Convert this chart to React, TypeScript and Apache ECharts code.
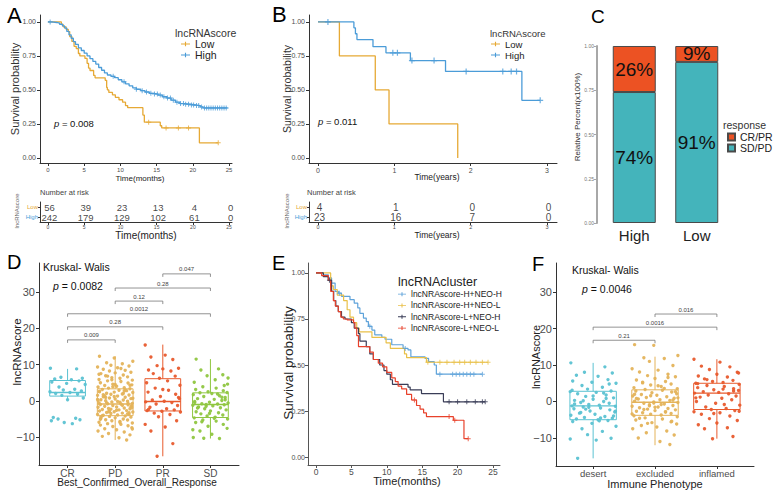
import React, { useEffect, useRef } from "react";
import * as echarts from "echarts";

const FONT = "'Liberation Sans', Arial, Helvetica, sans-serif";

// ---------------- Panel A (Kaplan-Meier, months) ----------------
const A_LOW: number[][] = [[0,1],[1.85,0.982],[2.1,0.964],[2.5,0.946],[2.8,0.929],[3.0,0.893],[3.3,0.857],[3.6,0.821],[3.9,0.804],[4.2,0.768],[4.4,0.75],[5.1,0.732],[5.4,0.696],[5.6,0.661],[5.8,0.643],[6.3,0.607],[6.5,0.589],[7.9,0.571],[8.1,0.518],[8.2,0.5],[8.4,0.482],[8.9,0.464],[9.3,0.446],[9.8,0.428],[10.3,0.41],[10.7,0.385],[11.0,0.37],[13.1,0.315],[13.3,0.263],[15.5,0.237],[15.7,0.221],[20.9,0.111],[23.5,0.111]];
const A_HIGH: number[][] = [[0,1],[0.5,0.996],[1.2,0.992],[1.6,0.983],[2.0,0.971],[2.3,0.955],[2.6,0.93],[2.9,0.905],[3.2,0.88],[3.5,0.855],[3.8,0.835],[4.2,0.81],[4.6,0.79],[5.0,0.77],[5.4,0.75],[5.8,0.73],[6.2,0.71],[6.6,0.69],[7.0,0.665],[7.4,0.645],[7.8,0.625],[8.2,0.61],[8.7,0.6],[9.2,0.59],[9.7,0.575],[10.2,0.56],[10.7,0.545],[11.2,0.53],[11.7,0.515],[12.2,0.505],[12.8,0.495],[13.4,0.485],[14.0,0.475],[14.6,0.47],[15.2,0.462],[15.8,0.45],[16.4,0.44],[17.0,0.425],[17.6,0.41],[18.2,0.4],[18.8,0.395],[19.6,0.39],[20.4,0.385],[21.0,0.375],[21.4,0.368],[24.8,0.368]];
const A_LOW_CENS = [13.9, 16.3, 18.0, 19.4, 23.5];
const A_HIGH_CENS = [0.3, 9.0, 10.5, 12.2, 13.0, 13.6, 14.2, 14.7, 15.1, 15.5, 16.0, 16.5, 16.9, 17.3, 17.8, 18.3, 18.7, 19.0, 19.4, 19.8, 20.1, 20.5, 20.8, 21.2, 21.6, 21.9, 22.2, 22.5, 22.8, 23.1, 23.4, 23.7, 24.0, 24.3, 24.6];
const A_RISK_TIMES = [0, 5, 10, 15, 20, 25];
const A_RISK_LOW = [56, 39, 23, 13, 4, 0];
const A_RISK_HIGH = [242, 179, 129, 102, 61, 0];
const A_TICKS = [0, 5, 10, 15, 20, 25];

// ---------------- Panel B (Kaplan-Meier, years) ----------------
const B_LOW: number[][] = [[0,1],[0.28,0.75],[0.75,0.5],[0.93,0.25],[1.83,0]];
const B_HIGH: number[][] = [[0,1],[0.47,0.957],[0.49,0.913],[0.51,0.87],[0.72,0.818],[0.89,0.773],[1.21,0.716],[1.67,0.636],[2.67,0.424],[2.91,0.424]];
const B_HIGH_CENS = [0.13, 0.98, 1.04, 1.23, 1.52, 1.94, 2.42, 2.53, 2.6, 2.91];
const B_RISK_TIMES = [0, 1, 2, 3];
const B_RISK_LOW = [4, 1, 0, 0];
const B_RISK_HIGH = [23, 16, 7, 0];
const B_TICKS = [0, 1, 2, 3];

// ---------------- Panel C (stacked bars) ----------------
const C_CATS = ["High", "Low"];
const C_SDPD = [0.74, 0.91];
const C_CRPR = [0.26, 0.09];

// ---------------- Panel D (box + jitter) ----------------
const D_CATS = ["CR", "PD", "PR", "SD"];
const D_BOX = [
  [0.2, 1.3, 2.3, 5.6, 8.8],
  [-10.8, -4.1, -0.9, 3.3, 12.3],
  [-15.3, -2.8, -0.2, 6.1, 15.5],
  [-10.4, -4.6, -1.0, 2.2, 11.5],
];
const D_CR = [9.0, 8.8, 6.5, 6.2, 6.0, 5.8, 5.5, 5.2, 4.8, 4.5, 3.8, 3.2, 3.0, 2.7, 2.5, 2.3, 2.0, 1.8, 1.5, 0.8, 0.3, -4.6, -4.8, -5.0, -5.2, -6.0, -6.3, -5.5];
const D_PD = [12.3, 11.8, 10.9, 10.5, 10.2, 9.8, 9.6, 9.3, 9.1, 8.7, 8.4, 8.2, 7.9, 7.7, 7.5, 7.1, 6.9, 6.6, 6.4, 6.2, 5.9, 5.7, 5.5, 5.3, 5.0, 4.9, 4.6, 4.4, 4.2, 4.0, 3.8, 3.6, 3.5, 3.3, 3.1, 2.9, 2.8, 2.6, 2.4, 2.3, 2.1, 1.9, 1.8, 1.6, 1.5, 1.3, 1.1, 1.0, 0.8, 0.6, 0.5, 0.3, 0.2, 0.0, -0.1, -0.3, -0.4, -0.6, -0.7, -0.8, -0.9, -1.0, -1.1, -1.3, -1.4, -1.5, -1.7, -1.8, -2.0, -2.1, -2.2, -2.4, -2.5, -2.7, -2.8, -3.0, -3.1, -3.2, -3.4, -3.5, -3.7, -3.8, -3.9, -4.0, -4.2, -4.3, -4.5, -4.7, -4.8, -5.0, -5.2, -5.3, -5.5, -5.7, -5.9, -6.1, -6.3, -6.5, -6.7, -6.9, -7.1, -7.4, -7.7, -8.0, -8.3, -8.6, -9.0, -9.4, -9.8, -10.2, -10.8, 2.5, 1.2, 0.7, -0.5, -1.2, -2.3, -3.3, 0.4, -0.2, 1.7, 3.0, -2.9, -1.6, 4.5, -4.4, 2.0, 0.9, -3.6, 5.8, -6.0, 7.3, -7.8, 6.8, 8.9, -5.1, -0.7, 3.9, -1.9, 1.4, -2.6, 0.1, 2.7, -3.0, 4.3, -4.1];
const D_PR = [15.4, 12.6, 12.1, 11.4, 9.7, 9.0, 8.8, 8.5, 8.2, 7.5, 6.8, 6.2, 5.5, 5.0, 4.3, 3.5, 2.9, 2.4, 1.8, 1.2, 0.6, 0.2, -0.1, -0.3, -0.5, -0.9, -1.3, -1.8, -2.2, -2.5, -2.7, -2.9, -3.1, -3.4, -3.8, -4.4, -5.5, -6.5, -7.2, -8.3, -11.8, -15.3, 0.9, 3.1, -2.4];
const D_SD = [11.5, 8.8, 8.5, 7.2, 6.9, 5.8, 5.1, 4.6, 3.9, 3.5, 3.1, 2.8, 2.5, 2.3, 2.2, 2.0, 1.7, 1.4, 1.2, 0.9, 0.6, 0.4, 0.1, -0.2, -0.4, -0.6, -0.8, -0.9, -1.0, -1.1, -1.2, -1.4, -1.7, -1.9, -2.2, -2.5, -2.8, -3.0, -3.3, -3.6, -3.9, -4.2, -4.5, -4.7, -5.0, -5.3, -5.6, -6.0, -6.5, -7.0, -7.6, -8.3, -9.2, -10.1, -10.4, -10.3, 0.3, -2.0, -4.8, 1.0, -0.5, -3.5, 6.3, -5.8, 1.9, -1.5, 4.2, -8.0];
const D_BRACKETS = [[3, 4, 35.0], [2, 4, 31.1], [2, 3, 27.5], [1, 4, 24.0], [1, 3, 20.4], [1, 2, 16.8]];
const D_BRACKET_LABELS = ["0.047", "0.28", "0.12", "0.0012", "0.28", "0.009"];

// ---------------- Panel E (Kaplan-Meier, 4 groups) ----------------
const E_NAMES = ["lncNRAscore-H+NEO-H", "lncNRAscore-H+NEO-L", "lncNRAscore-L+NEO-H", "lncNRAscore-L+NEO-L"];
const E_HH: number[][] = [[0,1],[1.04,0.99],[1.74,0.973],[2.2,0.945],[2.7,0.9],[3.15,0.89],[3.6,0.873],[4.8,0.855],[5.4,0.836],[5.9,0.81],[6.2,0.78],[6.7,0.755],[7.1,0.736],[7.4,0.71],[7.9,0.69],[8.3,0.664],[9.3,0.65],[9.75,0.64],[10.7,0.61],[12.3,0.59],[13.0,0.582],[13.4,0.545],[15.4,0.536],[15.9,0.518],[16.7,0.5],[17.0,0.45],[23.5,0.45]];
const E_HL: number[][] = [[0,1],[2.07,0.93],[2.45,0.91],[3.0,0.88],[3.9,0.85],[4.4,0.8],[4.8,0.76],[5.3,0.73],[5.75,0.7],[6.1,0.68],[7.9,0.65],[9.9,0.62],[10.5,0.59],[12.5,0.56],[12.8,0.54],[15.6,0.515],[24.3,0.515]];
const E_LH: number[][] = [[0,1],[1.04,0.98],[1.74,0.96],[2.2,0.9],[2.5,0.85],[2.8,0.82],[3.15,0.79],[3.6,0.76],[4.1,0.75],[5.0,0.73],[5.4,0.7],[6.0,0.67],[6.2,0.63],[7.1,0.6],[7.6,0.56],[8.1,0.53],[9.0,0.5],[9.6,0.47],[10.0,0.45],[10.5,0.42],[10.8,0.395],[13.0,0.38],[13.3,0.365],[14.9,0.345],[18.0,0.3],[23.9,0.3]];
const E_LL: number[][] = [[0,1],[0.8,0.985],[1.74,0.96],[2.07,0.9],[2.45,0.85],[2.73,0.82],[3.15,0.79],[3.5,0.76],[3.86,0.75],[4.4,0.745],[5.3,0.73],[5.5,0.7],[5.75,0.66],[6.0,0.6],[7.6,0.57],[8.1,0.53],[8.8,0.51],[9.4,0.49],[10.0,0.46],[10.7,0.43],[11.2,0.41],[11.6,0.385],[12.1,0.37],[12.8,0.34],[13.5,0.31],[14.2,0.28],[14.7,0.26],[15.2,0.24],[15.6,0.22],[19.4,0.2],[20.9,0.1],[21.5,0.1]];
const E_HH_CENS = [3.3, 7.6, 12.6, 17.5, 19.3, 19.8, 20.3, 20.8, 21.3, 21.8, 22.3, 23.5];
const E_HL_CENS = [15.8, 17.5, 18.5, 19.5, 20.3, 21.0, 21.8, 22.6, 23.5, 24.3];
const E_LH_CENS = [1.9, 18.8, 20.0, 21.3, 22.5, 23.5, 23.9];
const E_LL_CENS = [13.9, 18.8, 19.6, 21.5];
const E_TICKS = [0, 5, 10, 15, 20, 25];

// ---------------- Panel F (box + jitter) ----------------
const F_CATS = ["desert", "excluded", "inflamed"];
const F_BOX = [
  [-15.6, -5.0, -1.2, 2.8, 10.6],
  [-12.0, -3.8, -0.2, 3.2, 12.3],
  [-10.2, -2.2, 2.3, 5.0, 11.6],
];
const F_DESERT = [10.6, 9.5, 8.0, 7.8, 7.2, 6.9, 6.0, 5.6, 5.3, 5.0, 4.4, 3.9, 3.4, 2.9, 2.7, 2.5, 2.1, 1.8, 1.4, 1.0, 0.6, 0.3, 0.0, -0.3, -0.5, -0.8, -1.0, -1.2, -1.3, -1.5, -1.8, -2.0, -2.3, -2.6, -2.9, -3.2, -3.5, -3.8, -4.1, -4.4, -4.6, -4.8, -5.0, -5.2, -5.5, -6.0, -6.8, -7.5, -8.2, -9.1, -10.1, -10.3, -10.6, -15.6, 0.8, -2.1, -4.0, 1.5, -0.7, 2.3, -3.0, 4.8, -1.6, -5.3, 3.1, -2.7, 0.2, -4.5];
const F_EXCLUDED = [15.6, 15.4, 12.6, 12.0, 11.8, 11.0, 9.9, 9.0, 8.6, 8.1, 7.5, 7.1, 6.8, 6.3, 5.9, 5.5, 5.1, 4.8, 4.5, 4.1, 3.8, 3.5, 3.3, 3.1, 2.9, 2.6, 2.4, 2.1, 1.9, 1.7, 1.5, 1.3, 1.1, 0.9, 0.7, 0.5, 0.3, 0.1, -0.1, -0.3, -0.5, -0.7, -0.9, -1.1, -1.3, -1.5, -1.7, -1.9, -2.1, -2.3, -2.5, -2.7, -2.9, -3.1, -3.3, -3.5, -3.7, -3.9, -4.2, -4.5, -4.8, -5.1, -5.4, -5.8, -6.2, -6.6, -7.0, -7.5, -8.1, -8.6, -9.2, -10.0, -11.0, -11.8, 2.0, -0.4, 1.0, -2.2, 3.6, -1.2, 0.4, -3.4, 4.3, -4.6, 6.6, -6.0, 2.7, -1.6, 0.8, -2.8, 5.3, -5.6, 1.6, -0.8];
const F_INFLAMED = [11.6, 10.8, 9.7, 9.5, 8.8, 8.0, 7.5, 7.0, 6.7, 6.2, 5.8, 5.5, 5.2, 5.0, 4.7, 4.4, 4.1, 3.8, 3.5, 3.2, 3.0, 2.7, 2.5, 2.3, 2.1, 1.8, 1.5, 1.2, 0.9, 0.5, 0.0, -0.5, -1.0, -1.5, -1.9, -2.2, -2.5, -2.8, -3.1, -3.5, -4.0, -4.7, -5.2, -5.9, -6.4, -7.2, -7.5, -9.6, -10.2, 3.4, 1.0, -2.7, 6.0, -0.8, 4.9, 2.9, -3.3, 7.8];
const F_BRACKETS = [[2, 3, 24.0], [1, 3, 20.4], [1, 2, 16.8]];
const F_BRACKET_LABELS = ["0.016", "0.0016", "0.21"];

const SCORE_TICKS = [-10, 0, 10, 20, 30];
const JITTER = [0.12, -0.31, 0.27, -0.05, 0.35, -0.22, 0.03, -0.36, 0.19, -0.14, 0.31, -0.27, 0.08, 0.24, -0.33, -0.02, 0.37, -0.18, 0.15, -0.09, 0.29, -0.37, 0.05, -0.25, 0.21, -0.12, 0.33, 0.0, -0.3, 0.17, -0.2, 0.26, -0.07, 0.1, -0.34, 0.36, -0.16];

// ---------------- colours ----------------
const COL_LOW = "#E6A935";
const COL_HIGH = "#4B9CD8";
const COL_RED = "#EC5223";
const COL_TEAL = "#44B4BB";
const BOX_COLS_D = ["#5BC2D2", "#E4B35A", "#E85A2D", "#8FC640"];
const BOX_COLS_F = ["#5BC2D2", "#E4B35A", "#E85A2D"];
const E_COLS = ["#5FA3DA", "#E9C048", "#3A3D57", "#E8412B"];

const PLUS = "path://M0,4H10V6H0Z M4,0H6V10H4Z";
const KM_ICON = "path://M0,4.2H16V5.8H0Z M7,1H9V9H7Z";

const survAt = (curve: number[][], t: number) => {
  let s = curve[0][1];
  for (const p of curve) {
    if (p[0] <= t) s = p[1];
    else break;
  }
  return s;
};
const cens = (curve: number[][], times: number[]) => times.map((t) => [t, survAt(curve, t)]);

const minusFmt = (v: number) => (v < 0 ? "\u2212" + Math.abs(v) : String(v));

function valAxis(gridIndex: number, min: number, max: number, ticks: number[], fs: number, margin: number, formatter?: any, labelColor = "#4D4D4D", lineColor = "#333") {
  const ax: any = {
    type: "value",
    gridIndex,
    min,
    max,
    splitLine: { show: false },
    axisLine: { show: true, onZero: false, lineStyle: { color: lineColor, width: 1 } },
    axisTick: { show: true, length: 3, customValues: ticks, lineStyle: { color: lineColor } },
    axisLabel: { customValues: ticks, fontSize: fs, color: labelColor, margin, fontFamily: FONT },
  };
  if (formatter) ax.axisLabel.formatter = formatter;
  return ax;
}

function riskYAxis(gridIndex: number) {
  return {
    type: "category",
    gridIndex,
    data: ["High", "Low"],
    axisLine: { show: true, onZero: false, lineStyle: { color: "#333" } },
    axisTick: { show: true, length: 2, alignWithLabel: true, lineStyle: { color: "#333" } },
    axisLabel: {
      fontSize: 6,
      margin: 2,
      fontFamily: FONT,
      color: (v: string) => (v === "Low" ? COL_LOW : COL_HIGH),
    },
  };
}

function kmLine(name: string, data: number[][], idx: number, color: string, width = 1.3) {
  return { type: "line", name, xAxisIndex: idx, yAxisIndex: idx, data, step: "end", symbol: "none", color, lineStyle: { width, color }, z: 3, silent: true };
}
function kmCens(name: string, data: number[][], idx: number, color: string, size = 5) {
  return { type: "scatter", name, xAxisIndex: idx, yAxisIndex: idx, data, symbol: PLUS, symbolSize: size, color, itemStyle: { color }, z: 4, silent: true };
}
function riskSeries(idx: number, times: number[], counts: number[], row: number, fs: number) {
  return {
    type: "scatter",
    xAxisIndex: idx,
    yAxisIndex: idx,
    data: times.map((t, i) => [t, row, counts[i]]),
    symbolSize: 1,
    itemStyle: { color: "transparent" },
    silent: true,
    label: { show: true, position: "inside", offset: [1.5, 0], formatter: (p: any) => String(p.value[2]), fontSize: fs, color: "#111", fontFamily: FONT },
  };
}

function boxSeries(idx: number, boxes: number[][], cols: string[]) {
  return {
    type: "custom",
    xAxisIndex: idx,
    yAxisIndex: idx,
    data: boxes.map((b, i) => [i + 1, ...b]),
    silent: true,
    z: 2,
    renderItem: (params: any, api: any) => {
      const x = api.value(0);
      const lo = api.value(1), q1 = api.value(2), med = api.value(3), q3 = api.value(4), hi = api.value(5);
      const hw = 0.375;
      const color = cols[params.dataIndex];
      const tl = api.coord([x - hw, q3]);
      const br = api.coord([x + hw, q1]);
      const ml = api.coord([x - hw, med]);
      const mr = api.coord([x + hw, med]);
      const pHi = api.coord([x, hi]);
      const pQ3 = api.coord([x, q3]);
      const pQ1 = api.coord([x, q1]);
      const pLo = api.coord([x, lo]);
      return {
        type: "group",
        children: [
          { type: "line", shape: { x1: pHi[0], y1: pHi[1], x2: pQ3[0], y2: pQ3[1] }, style: { stroke: color, lineWidth: 1 } },
          { type: "line", shape: { x1: pQ1[0], y1: pQ1[1], x2: pLo[0], y2: pLo[1] }, style: { stroke: color, lineWidth: 1 } },
          { type: "rect", shape: { x: tl[0], y: tl[1], width: br[0] - tl[0], height: br[1] - tl[1] }, style: { fill: "none", stroke: color, lineWidth: 1 } },
          { type: "line", shape: { x1: ml[0], y1: ml[1], x2: mr[0], y2: mr[1] }, style: { stroke: color, lineWidth: 1.4 } },
        ],
      };
    },
  };
}

function jitterSeries(idx: number, group: number, values: number[], color: string) {
  return {
    type: "scatter",
    xAxisIndex: idx,
    yAxisIndex: idx,
    data: values.map((v, i) => [group + JITTER[(i + group * 7) % JITTER.length], v]),
    symbolSize: 3.4,
    itemStyle: { color, opacity: 0.95 },
    z: 3,
    silent: true,
  };
}

function bracketSeries(idx: number, brackets: number[][], labels: string[]) {
  return {
    type: "custom",
    xAxisIndex: idx,
    yAxisIndex: idx,
    data: brackets,
    silent: true,
    z: 4,
    renderItem: (params: any, api: any) => {
      const p1 = api.coord([api.value(0), api.value(2)]);
      const p2 = api.coord([api.value(1), api.value(2)]);
      const tip = 3;
      return {
        type: "group",
        children: [
          {
            type: "polyline",
            shape: { points: [[p1[0], p1[1] + tip], [p1[0], p1[1]], [p2[0], p2[1]], [p2[0], p2[1] + tip]] },
            style: { stroke: "#777", lineWidth: 0.8, fill: "none" },
          },
          {
            type: "text",
            x: (p1[0] + p2[0]) / 2,
            y: p1[1] - 1.5,
            style: { text: labels[params.dataIndex], fontSize: 6, fill: "#444", align: "center", verticalAlign: "bottom", fontFamily: FONT },
          },
        ],
      };
    },
  };
}

function T(text: string, x: number, y: number, fs: number, o: any = {}) {
  const style: any = {
    text,
    fontSize: fs,
    fontFamily: FONT,
    fill: o.color || "#222",
    align: o.align || "left",
    verticalAlign: "middle",
  };
  if (o.rich) style.rich = o.rich;
  return { type: "text", x, y, rotation: o.rot ? Math.PI / 2 : 0, style, silent: true };
}
function P(value: string, x: number, y: number, fs: number) {
  return T("{i|p} = " + value, x, y, fs, { color: "#111", rich: { i: { fontStyle: "italic", fontSize: fs, fontFamily: FONT, fill: "#111" } } });
}

function buildOption(): any {
  const kmY = (g: number, fs = 7) => valAxis(g, -0.037, 1.051, [0, 0.25, 0.5, 0.75, 1], fs, 4, (v: number) => v.toFixed(2));

  const grid = [
    { left: 40, top: 15, width: 192, height: 148 }, // 0 A
    { left: 40, top: 202, width: 192, height: 20 }, // 1 A risk
    { left: 309, top: 15, width: 248, height: 148 }, // 2 B
    { left: 309, top: 202, width: 248, height: 20 }, // 3 B risk
    { left: 603, top: 46, width: 125, height: 177 }, // 4 C
    { left: 39, top: 263, width: 200, height: 202 }, // 5 D
    { left: 308, top: 263, width: 192, height: 202 }, // 6 E
    { left: 556, top: 263, width: 198, height: 203 }, // 7 F
  ];

  const cX = {
    type: "category",
    gridIndex: 4,
    data: C_CATS,
    axisLine: { show: false },
    axisTick: { show: false },
    axisLabel: { fontSize: 15, color: "#222", margin: 5, fontFamily: FONT },
  };
  const cY = valAxis(4, 0, 1, [0, 0.25, 0.5, 0.75, 1], 5, 3, (v: number) => v.toFixed(2), "#777", "#A8A8A8");
  cY.axisLine.lineStyle.width = 2;
  cY.offset = 6;

  const xAxis = [
    valAxis(0, -1.1, 25.4, A_TICKS, 6, 4),
    valAxis(1, -1.1, 25.4, A_TICKS, 5, 2),
    valAxis(2, -0.118, 3.13, B_TICKS, 7, 4),
    valAxis(3, -0.118, 3.13, B_TICKS, 5.5, 2),
    cX,
    valAxis(5, 0.4, 4.6, [1, 2, 3, 4], 10, 3, (v: number) => D_CATS[Math.round(v) - 1], "#4D4D4D"),
    valAxis(6, -1.13, 25.99, E_TICKS, 8.5, 2, undefined, "#4D4D4D", "#555"),
    valAxis(7, 0.4, 3.6, [1, 2, 3], 9.5, 2, (v: number) => F_CATS[Math.round(v) - 1], "#4D4D4D"),
  ];
  const yAxis = [
    kmY(0),
    riskYAxis(1),
    kmY(2),
    riskYAxis(3),
    cY,
    valAxis(5, -17.7, 38.0, SCORE_TICKS, 11, 4, minusFmt),
    valAxis(6, -0.043, 1.054, [0, 0.25, 0.5, 0.75, 1], 7, 3, (v: number) => v.toFixed(2), "#4D4D4D", "#555"),
    valAxis(7, -17.7, 38.0, SCORE_TICKS, 11, 4, minusFmt),
  ];

  const E_CURVES = [E_HH, E_HL, E_LH, E_LL];
  const E_CENS = [E_HH_CENS, E_HL_CENS, E_LH_CENS, E_LL_CENS];

  const barLabel = { show: true, position: "inside", formatter: (p: any) => Math.round(p.value * 100) + "%", fontSize: 19, color: "#111", fontFamily: FONT };

  const series: any[] = [
    // A
    kmLine("Low", A_LOW, 0, COL_LOW),
    kmLine("High", A_HIGH, 0, COL_HIGH),
    kmCens("Low-c", cens(A_LOW, A_LOW_CENS), 0, COL_LOW),
    kmCens("High-c", cens(A_HIGH, A_HIGH_CENS), 0, COL_HIGH),
    riskSeries(1, A_RISK_TIMES, A_RISK_LOW, 1, 9.5),
    riskSeries(1, A_RISK_TIMES, A_RISK_HIGH, 0, 9.5),
    // B
    kmLine("Low", B_LOW, 2, COL_LOW),
    kmLine("High", B_HIGH, 2, COL_HIGH),
    kmCens("High-c", cens(B_HIGH, B_HIGH_CENS), 2, COL_HIGH, 6),
    riskSeries(3, B_RISK_TIMES, B_RISK_LOW, 1, 10),
    riskSeries(3, B_RISK_TIMES, B_RISK_HIGH, 0, 10),
    // C
    {
      type: "bar",
      name: "SD/PD",
      xAxisIndex: 4,
      yAxisIndex: 4,
      stack: "c",
      barWidth: 43,
      data: C_SDPD,
      color: COL_TEAL,
      itemStyle: { color: COL_TEAL, borderColor: "#4a4a4a", borderWidth: 1 },
      label: barLabel,
      silent: true,
    },
    {
      type: "bar",
      name: "CR/PR",
      xAxisIndex: 4,
      yAxisIndex: 4,
      stack: "c",
      barWidth: 43,
      data: C_CRPR,
      color: COL_RED,
      itemStyle: { color: COL_RED, borderColor: "#4a4a4a", borderWidth: 1 },
      label: barLabel,
      silent: true,
    },
    // D
    boxSeries(5, D_BOX, BOX_COLS_D),
    jitterSeries(5, 1, D_CR, BOX_COLS_D[0]),
    jitterSeries(5, 2, D_PD, BOX_COLS_D[1]),
    jitterSeries(5, 3, D_PR, BOX_COLS_D[2]),
    jitterSeries(5, 4, D_SD, BOX_COLS_D[3]),
    bracketSeries(5, D_BRACKETS, D_BRACKET_LABELS),
    // F
    boxSeries(7, F_BOX, BOX_COLS_F),
    jitterSeries(7, 1, F_DESERT, BOX_COLS_F[0]),
    jitterSeries(7, 2, F_EXCLUDED, BOX_COLS_F[1]),
    jitterSeries(7, 3, F_INFLAMED, BOX_COLS_F[2]),
    bracketSeries(7, F_BRACKETS, F_BRACKET_LABELS),
  ];
  E_NAMES.forEach((n, i) => {
    series.push(kmLine(n, E_CURVES[i], 6, E_COLS[i], 1.2));
    series.push(kmCens(n + "-c", cens(E_CURVES[i], E_CENS[i]), 6, E_COLS[i], 5));
  });

  const legendText = (fs: number, lh: number) => ({ fontSize: fs, color: "#222", fontFamily: FONT, lineHeight: lh });
  const legend = [
    { left: 181, top: 38.5, orient: "vertical", padding: 0, itemGap: 0, itemWidth: 9, itemHeight: 6, icon: KM_ICON, data: ["Low", "High"], textStyle: legendText(10.5, 11), selectedMode: false },
    { left: 491, top: 38.5, orient: "vertical", padding: 0, itemGap: 0, itemWidth: 9, itemHeight: 6, icon: KM_ICON, data: ["Low", "High"], textStyle: legendText(9.5, 11), selectedMode: false },
    { left: 727, top: 131.5, orient: "vertical", padding: 0, itemGap: 0, itemWidth: 7, itemHeight: 7, icon: "rect", data: ["CR/PR", "SD/PD"], textStyle: legendText(10.5, 11), selectedMode: false },
    { left: 398, top: 288.5, orient: "vertical", padding: 0, itemGap: 0, itemWidth: 8, itemHeight: 5, icon: KM_ICON, data: E_NAMES, textStyle: legendText(8.5, 11.3), selectedMode: false },
  ];

  const graphic = [
    T("A", 7, 15.5, 22, { color: "#000" }),
    T("B", 272, 14.5, 22, { color: "#000" }),
    T("C", 591, 16.5, 19, { color: "#000" }),
    T("D", 7, 261.5, 20, { color: "#000" }),
    T("E", 272, 262.5, 20, { color: "#000" }),
    T("F", 532, 264, 20, { color: "#000" }),
    // A
    T("Survival probability", 15, 89, 11, { rot: true, align: "center", color: "#333" }),
    T("Time(months)", 140, 178, 8, { align: "center" }),
    T("lncRNAscore", 175, 33, 10.5, { color: "#333" }),
    P("0.008", 54, 123, 9.5),
    T("Number at risk", 40, 192, 7.5, { color: "#444" }),
    T("lncRNAscore", 17, 211, 6, { rot: true, align: "center", color: "#666" }),
    T("Time(months)", 146, 235, 10, { align: "center" }),
    // B
    T("Survival probability", 287, 89, 10.5, { rot: true, align: "center", color: "#333" }),
    T("Time(years)", 437, 177, 8.5, { align: "center" }),
    T("lncRNAscore", 490, 33, 9.5, { color: "#333" }),
    P("0.011", 318, 121, 9.5),
    T("Number at risk", 307, 192, 7.5, { color: "#444" }),
    T("lncRNAscore", 287, 211, 6, { rot: true, align: "center", color: "#666" }),
    T("Time(years)", 437, 235, 8.5, { align: "center" }),
    // C
    T("Relative Percent(x100%)", 577, 117, 8, { rot: true, align: "center", color: "#333" }),
    T("response", 723, 125, 10.5, { color: "#333" }),
    // D
    T("lncRNAscore", 17, 352, 11.5, { rot: true, align: "center", color: "#222" }),
    T("Best_Confirmed_Overall_Response", 137, 482.5, 10, { align: "center" }),
    T("Kruskal- Walis", 43, 267, 10.5, { color: "#111" }),
    P("0.0082", 53, 286, 10.5),
    // E
    T("Survival probability", 288, 363, 13.5, { rot: true, align: "center", color: "#222" }),
    T("Time(months)", 407, 481, 11, { align: "center" }),
    T("lncRNAcluster", 398, 282, 12.5, { color: "#222" }),
    // F
    T("lncRNAscore", 536, 357, 11, { rot: true, align: "center", color: "#222" }),
    T("Immune Phenotype", 655, 483.5, 11, { align: "center" }),
    T("Kruskal- Walis", 572, 270, 10.5, { color: "#111" }),
    P("0.0046", 582, 289, 10.5),
  ];

  return {
    animation: false,
    backgroundColor: "#fff",
    textStyle: { fontFamily: FONT },
    grid,
    xAxis,
    yAxis,
    series,
    legend,
    graphic,
  };
}

export default function App() {
  const ref = useRef<HTMLDivElement>(null);
  useEffect(() => {
    const chart = echarts.init(ref.current as HTMLDivElement, null, { renderer: "svg" });
    chart.setOption(buildOption());
    return () => chart.dispose();
  }, []);
  return <div ref={ref} style={{ position: "absolute", left: 0, top: 0, width: 778, height: 492, background: "#fff" }} />;
}
